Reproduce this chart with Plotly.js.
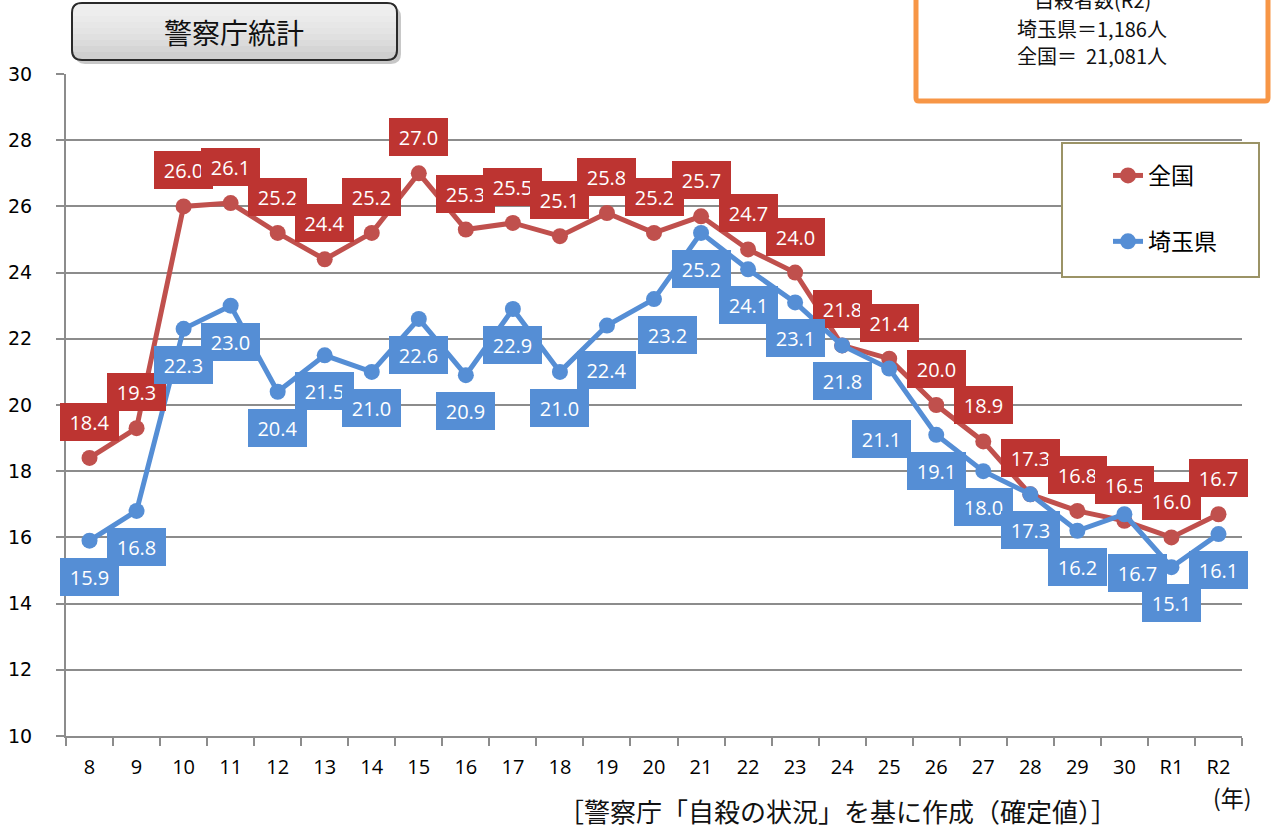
<!DOCTYPE html>
<html>
<head>
<meta charset="utf-8">
<script src="https://cdn.plot.ly/plotly-3.0.1.min.js"></script>
<style>
  html, body { margin: 0; padding: 0; background: #ffffff; }
  #chart { width: 1274px; height: 829px; }
</style>
</head>
<body>
<div id="chart"></div>
<script>
// ---- data ----
const years = ['8','9','10','11','12','13','14','15','16','17','18','19','20','21','22','23','24','25','26','27','28','29','30','R1','R2'];
const national = [18.4,19.3,26.0,26.1,25.2,24.4,25.2,27.0,25.3,25.5,25.1,25.8,25.2,25.7,24.7,24.0,21.8,21.4,20.0,18.9,17.3,16.8,16.5,16.0,16.7];
const saitama  = [15.9,16.8,22.3,23.0,20.4,21.5,21.0,22.6,20.9,22.9,21.0,22.4,23.2,25.2,24.1,23.1,21.8,21.1,19.1,18.0,17.3,16.2,16.7,15.1,16.1];
const seriesNames = ['全国', '埼玉県'];
const yTicks = [10,12,14,16,18,20,22,24,26,28,30];

// ---- label placement (pixel offsets, not data) ----
const redShift = [0, 36];
const blueShift = [0, -36];
const blueShiftExceptions = { '19': [0, -44], '20': [13, -36], '25': [-8, -70], '30': [13, -59] };

// ---- geometry helpers (pixel -> paper) ----
const L = 66, R = 1242, T = 74, B = 736;
const W = R - L, H = B - T;
function px(x) { return (x - L) / W; }
function py(y) { return (B - y) / H; }
function P(x, y) { return px(x).toFixed(5) + ',' + py(y).toFixed(5); }
function rr(x0, y0, x1, y1, r) {
  return 'M' + P(x0 + r, y0) + ' L' + P(x1 - r, y0) + ' Q' + P(x1, y0) + ' ' + P(x1, y0 + r) +
    ' L' + P(x1, y1 - r) + ' Q' + P(x1, y1) + ' ' + P(x1 - r, y1) +
    ' L' + P(x0 + r, y1) + ' Q' + P(x0, y1) + ' ' + P(x0, y1 - r) +
    ' L' + P(x0, y0 + r) + ' Q' + P(x0, y0) + ' ' + P(x0 + r, y0) + ' Z';
}
function topRounded(x0, y0, x1, y1, r) {
  return 'M' + P(x0 + r, y0) + ' L' + P(x1 - r, y0) + ' Q' + P(x1, y0) + ' ' + P(x1, y0 + r) +
    ' L' + P(x1, y1) + ' L' + P(x0, y1) + ' L' + P(x0, y0 + r) + ' Q' + P(x0, y0) + ' ' + P(x0 + r, y0) + ' Z';
}

const RED = '#c0504d';
const BLUE = '#558ed5';
const CJK = '"Noto Sans CJK JP", "Noto Sans CJK SC", sans-serif';

const traces = [
  {
    x: years, y: national, name: seriesNames[0], type: 'scatter', mode: 'lines+markers',
    line: { color: RED, width: 5 }, marker: { color: RED, size: 16 },
    legendgroup: 'a', hoverinfo: 'x+y'
  },
  {
    x: years, y: saitama, name: seriesNames[1], type: 'scatter', mode: 'lines+markers',
    line: { color: BLUE, width: 5 }, marker: { color: BLUE, size: 16 },
    legendgroup: 'b', hoverinfo: 'x+y'
  }
];

const annotations = [];
function addLabels(values, bg, shiftDefault, exceptions) {
  values.forEach(function (v, i) {
    const s = (exceptions && exceptions[years[i]]) || shiftDefault;
    annotations.push({
      xref: 'x', yref: 'y', x: i, y: v,   // category axis: serial index of years[i]
      text: v.toFixed(1), showarrow: false,
      bgcolor: bg, borderpad: 2, borderwidth: 0,
      width: 55, height: 34,
      font: { family: '"Open Sans", "Noto Sans", sans-serif', size: 20, color: '#ffffff' },
      xshift: s[0], yshift: s[1]
    });
  });
}
addLabels(national, '#bd3431', redShift, null);
addLabels(saitama, '#558ed5', blueShift, blueShiftExceptions);

// texts
annotations.push(
  { xref: 'paper', yref: 'paper', x: px(234), y: py(32), text: '警察庁統計', showarrow: false,
    font: { family: CJK, size: 28, color: '#111111' }, xanchor: 'center', yanchor: 'middle' },
  { xref: 'paper', yref: 'paper', x: px(1092), y: py(0), text: '自殺者数(R2)', showarrow: false,
    font: { family: CJK, size: 20, color: '#111111' }, xanchor: 'center', yanchor: 'middle' },
  { xref: 'paper', yref: 'paper', x: px(1092), y: py(28), text: '埼玉県＝1,186人', showarrow: false,
    font: { family: CJK, size: 20, color: '#111111' }, xanchor: 'center', yanchor: 'middle' },
  { xref: 'paper', yref: 'paper', x: px(1092), y: py(56), text: '全国＝  21,081人', showarrow: false,
    font: { family: CJK, size: 20, color: '#111111' }, xanchor: 'center', yanchor: 'middle' },
  { xref: 'paper', yref: 'paper', x: px(837), y: py(810), text: '［警察庁「自殺の状況」を基に作成（確定値）］', showarrow: false,
    font: { family: CJK, size: 26, color: '#111111' }, xanchor: 'center', yanchor: 'middle' },
  { xref: 'paper', yref: 'paper', x: px(1232), y: py(797), text: '(年)', showarrow: false,
    font: { family: CJK, size: 23, color: '#111111' }, xanchor: 'center', yanchor: 'middle' }
);

const shapes = [];
// title box: shadow, body, gradient strips
shapes.push({ type: 'path', xref: 'paper', yref: 'paper', layer: 'above', path: rr(75, 7, 401, 64, 10),
  fillcolor: 'rgba(0,0,0,0.22)', line: { width: 0 } });
shapes.push({ type: 'path', xref: 'paper', yref: 'paper', layer: 'above', path: rr(72, 3, 397, 60, 10),
  fillcolor: '#cfcfcf', line: { color: '#2a2a2a', width: 2 } });
for (let k = 1; k <= 8; k++) {
  shapes.push({ type: 'path', xref: 'paper', yref: 'paper', layer: 'above',
    path: topRounded(73, 4, 396, 4 + k * 6, 9), fillcolor: 'rgba(255,255,255,0.14)', line: { width: 0 } });
}
// info box
shapes.push({ type: 'path', xref: 'paper', yref: 'paper', layer: 'above', path: rr(916, -12, 1268, 101, 3),
  fillcolor: '#ffffff', line: { color: '#f79646', width: 5 } });
// legend box
shapes.push({ type: 'rect', xref: 'paper', yref: 'paper', layer: 'above',
  x0: px(1062), x1: px(1259), y0: py(277), y1: py(143),
  fillcolor: '#ffffff', line: { color: '#9b9366', width: 2 } });

const layout = {
  width: 1274, height: 829,
  margin: { l: L, r: 1274 - R, t: T, b: 829 - B, pad: 0 },
  paper_bgcolor: '#ffffff', plot_bgcolor: '#ffffff',
  font: { family: CJK, color: '#000000' },
  showlegend: true,
  legend: {
    x: px(1108), y: py(154), xanchor: 'left', yanchor: 'top',
    bgcolor: 'rgba(0,0,0,0)', borderwidth: 0,
    font: { family: CJK, size: 23, color: '#000000' },
    traceorder: 'grouped', tracegroupgap: 33
  },
  xaxis: {
    type: 'category', range: [-0.5, 24.5],
    showgrid: false, zeroline: false,
    showline: true, linecolor: '#8c8c8c', linewidth: 2,
    ticks: 'outside', tickson: 'boundaries', ticklen: 8, tickcolor: '#8c8c8c', tickwidth: 2,
    tickfont: { family: '"Open Sans", "Noto Sans", sans-serif', size: 20, color: '#000000' },
    ticklabelstandoff: 12, fixedrange: true
  },
  yaxis: {
    range: [10, 30], tickvals: yTicks, ticktext: yTicks.map(String),
    showgrid: true, gridcolor: '#8c8c8c', gridwidth: 2,
    zeroline: false, showline: true, linecolor: '#8c8c8c', linewidth: 2,
    ticks: 'outside', ticklen: 8, tickcolor: '#8c8c8c', tickwidth: 2,
    tickfont: { family: '"DejaVu Sans", Verdana, sans-serif', size: 19, color: '#000000' },
    ticklabelstandoff: 20, fixedrange: true
  },
  annotations: annotations,
  shapes: shapes
};

Plotly.newPlot('chart', traces, layout, { displayModeBar: false, staticPlot: false });
</script>
</body>
</html>
